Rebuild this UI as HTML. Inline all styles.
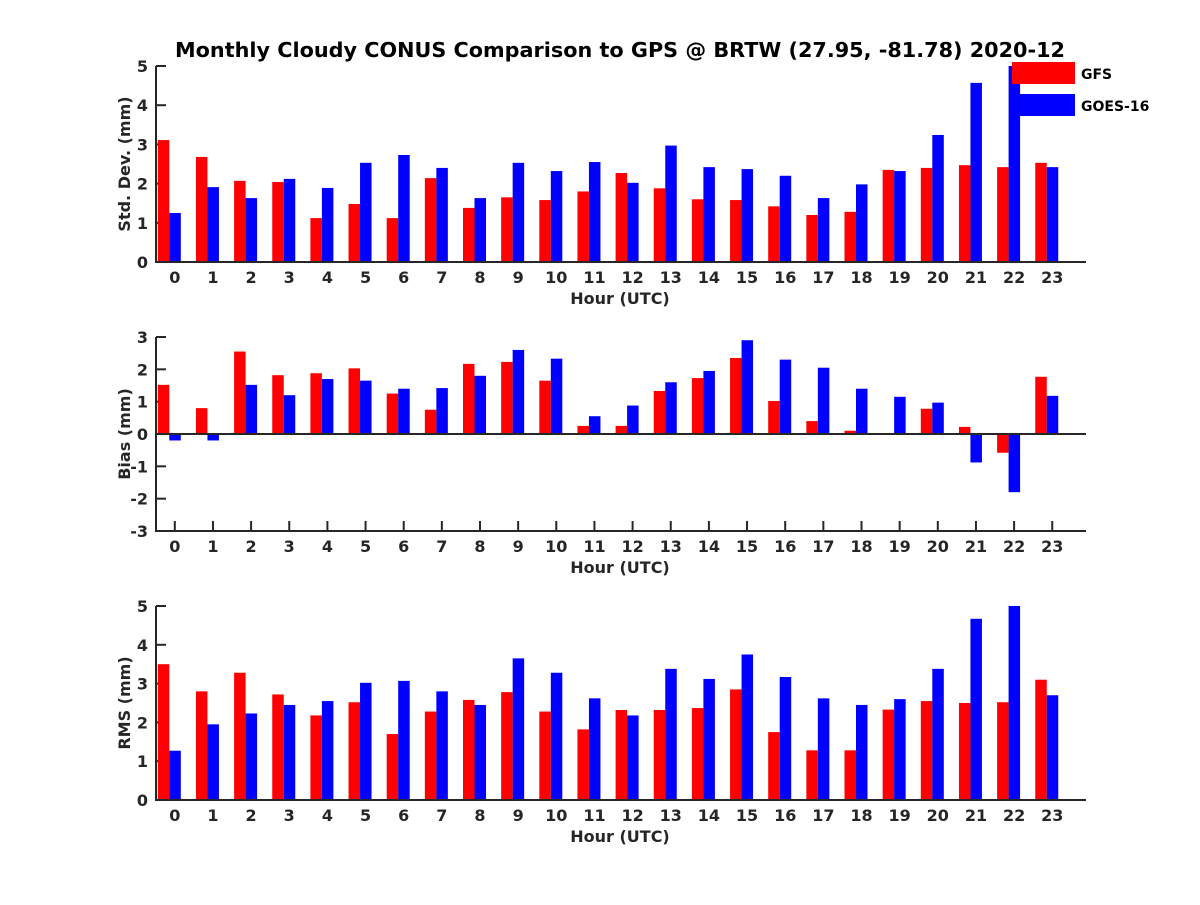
<!DOCTYPE html>
<html><head><meta charset="utf-8"><style>
body{margin:0;background:#fff}
svg text{font-family:"DejaVu Sans","Liberation Sans",sans-serif;font-weight:bold;fill:#262626}
</style></head><body>
<svg id="chart" width="1200" height="900" xmlns="http://www.w3.org/2000/svg">
<rect width="1200" height="900" fill="#fff"/>
<text x="620" y="57" text-anchor="middle" font-size="20" textLength="890" lengthAdjust="spacingAndGlyphs" style="fill:#000">Monthly Cloudy CONUS Comparison to GPS @ BRTW (27.95, -81.78) 2020-12</text>
<g id="plots"></g>
<g>
<rect x="1012" y="62" width="63" height="22" fill="#ff0000"/>
<text x="1081" y="79" font-size="14" style="fill:#000">GFS</text>
<rect x="1012" y="94" width="63" height="22" fill="#0000ff"/>
<text x="1081" y="111" font-size="14" style="fill:#000">GOES-16</text>
</g>
</svg>
<script>
const hours = [0,1,2,3,4,5,6,7,8,9,10,11,12,13,14,15,16,17,18,19,20,21,22,23];
const stdGFS  = [3.11,2.68,2.07,2.04,1.12,1.48,1.12,2.14,1.38,1.65,1.58,1.80,2.27,1.88,1.60,1.58,1.42,1.20,1.28,2.35,2.40,2.47,2.42,2.53];
const stdGOES = [1.25,1.91,1.63,2.12,1.89,2.53,2.73,2.40,1.63,2.53,2.32,2.55,2.02,2.97,2.42,2.37,2.20,1.63,1.98,2.32,3.24,4.57,5.00,2.42];
const biasGFS  = [1.52,0.80,2.55,1.82,1.88,2.03,1.25,0.75,2.17,2.23,1.65,0.25,0.25,1.33,1.73,2.35,1.02,0.40,0.10,0.02,0.78,0.22,-0.58,1.77];
const biasGOES = [-0.20,-0.20,1.52,1.20,1.70,1.65,1.40,1.42,1.80,2.60,2.33,0.55,0.88,1.60,1.95,2.90,2.30,2.05,1.40,1.15,0.97,-0.88,-1.80,1.18];
const rmsGFS  = [3.50,2.80,3.28,2.72,2.18,2.52,1.70,2.28,2.58,2.78,2.28,1.82,2.32,2.32,2.37,2.85,1.75,1.28,1.28,2.33,2.55,2.50,2.52,3.10];
const rmsGOES = [1.27,1.95,2.23,2.45,2.55,3.02,3.07,2.80,2.45,3.65,3.28,2.62,2.18,3.38,3.12,3.75,3.17,2.62,2.45,2.60,3.38,4.67,5.00,2.70];
const stdTicks = [0,1,2,3,4,5];
const biasTicks = [-3,-2,-1,0,1,2,3];
const rmsTicks = [0,1,2,3,4,5];

const NS='http://www.w3.org/2000/svg';
const root=document.getElementById('plots');
function mk(tag,attrs,parent){const e=document.createElementNS(NS,tag);for(const k in attrs)e.setAttribute(k,attrs[k]);(parent||root).appendChild(e);return e;}
const X0=156, X1=1086;
function xScale(h){return 174.8+h*38.15;}

function panel(key,top,bottom,ymin,ymax,ticks,gfs,goes,ylabel){
  const g=mk('g',{});
  
  
  const y=v=>bottom-(v-ymin)/(ymax-ymin)*(bottom-top);
  const y0=y(Math.max(0,ymin));
  hours.forEach(h=>{
    const t=xScale(h);
    mk('line',{x1:t,x2:t,y1:bottom,y2:bottom-10,stroke:'#262626','stroke-width':2},g);
  });
  ticks.forEach(v=>{
    mk('line',{x1:X0,x2:X0+10,y1:y(v),y2:y(v),stroke:'#262626','stroke-width':2},g);
  });
  hours.forEach((h,i)=>{
    const t=xScale(h);
    const a=gfs[i], b=goes[i];
    const r=mk('rect',{x:t-17,y:Math.min(y(a),y0),width:11.5,height:Math.abs(y(a)-y0),fill:'#ff0000'},g);
    
    
    const bb=mk('rect',{x:t-5.5,y:Math.min(y(b),y0),width:11.5,height:Math.abs(y(b)-y0),fill:'#0000ff'},g);
    
    
  });
  if(ymin<0){const zl=mk('line',{x1:X0,x2:X1,y1:y0,y2:y0,stroke:'#262626','stroke-width':2},g);
    }
  const ax=mk('path',{d:`M${X0},${top}V${bottom}H${X1}`,fill:'none',stroke:'#262626','stroke-width':2},g);
  
  
  ticks.forEach(v=>{
    const tl=mk('text',{x:X0-8,y:y(v)+6,'text-anchor':'end','font-size':16},g);
    tl.textContent=v;
    
    
  });
  hours.forEach(h=>{
    const t=xScale(h);
    const tl=mk('text',{x:t,y:bottom+21,'text-anchor':'middle','font-size':16},g);
    tl.textContent=h;
    
    
  });
  const xt=mk('text',{x:620,y:bottom+42,'text-anchor':'middle','font-size':16},g);
  xt.textContent='Hour (UTC)';
  
  
  const cy=(top+bottom)/2;
  const yt=mk('text',{x:0,y:0,'text-anchor':'middle','font-size':16,transform:`translate(130,${cy}) rotate(-90)`},g);
  yt.textContent=ylabel;
  
  
}
panel('std',66,262,0,5,stdTicks,stdGFS,stdGOES,'Std. Dev. (mm)');
panel('bias',337,531,-3,3,biasTicks,biasGFS,biasGOES,'Bias (mm)');
panel('rms',606,800,0,5,rmsTicks,rmsGFS,rmsGOES,'RMS (mm)');
</script>
</body></html>
